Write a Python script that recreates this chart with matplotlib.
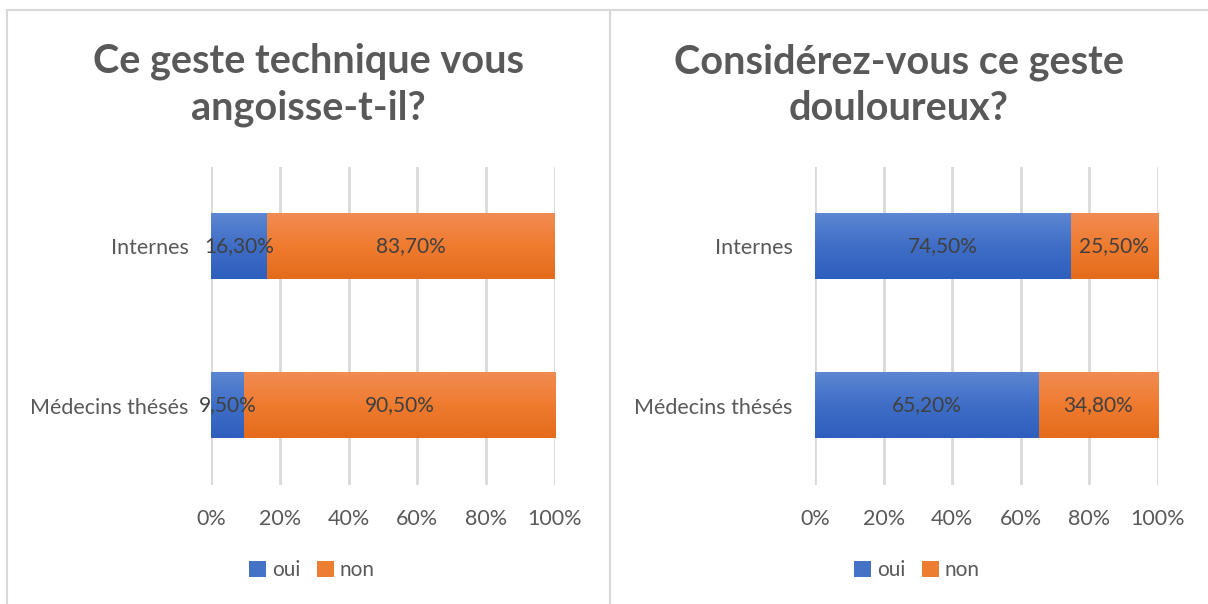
import numpy as np
import matplotlib.pyplot as plt
from matplotlib.colors import LinearSegmentedColormap
from matplotlib.patches import Rectangle

plt.rcParams['font.family'] = ['Lato', 'DejaVu Sans']

# data
groups = ["Internes", "Médecins thésés"]
angoisse_oui = [16.3, 9.5]
angoisse_non = [83.7, 90.5]
douleur_oui = [74.5, 65.2]
douleur_non = [25.5, 34.8]
titles = ["Ce geste technique vous\nangoisse-t-il?",
          "Considérez-vous ce geste\ndouloureux?"]
series_names = ["oui", "non"]
xticks = [0, 20, 40, 60, 80, 100]

BLUE = "#4472C4"
ORANGE = "#ED7D31"
GRID = "#D9D9D9"
TXT = "#595959"
BAR_H = 0.41

# top-to-bottom gradients like the office bars
blue_grad = LinearSegmentedColormap.from_list("b", ["#5C86D2", "#3F6EC6", "#2E5FBE"])
orange_grad = LinearSegmentedColormap.from_list("o", ["#F18B52", "#EF7B2F", "#E56B1B"])
ramp = np.linspace(0, 1, 64).reshape(-1, 1)

W, H = 1208, 604
fig = plt.figure(figsize=(W / 100, H / 100), dpi=100)


def fx(px):
    return px / W


def fy(py):
    return 1 - py / H


# panel borders
for x0, x1 in [(7, 610), (610, 1215)]:
    fig.patches.append(Rectangle((fx(x0), fy(620)), fx(x1 - x0), (620 - 10) / H,
                                 transform=fig.transFigure, fill=False,
                                 edgecolor=GRID, linewidth=1.5))


def fmt(v):
    return f"{v:.2f}".replace(".", ",") + "%"


def panel(ax_left, ax_right, title_x, legend_x, title, oui, non):
    ax = fig.add_axes([fx(ax_left), fy(485), fx(ax_right - ax_left), (485 - 167) / H])
    y = list(range(len(groups)))
    b1 = ax.barh(y, oui, height=BAR_H, color=BLUE, label=series_names[0])
    b2 = ax.barh(y, non, left=oui, height=BAR_H, color=ORANGE, label=series_names[1])
    for bars, cmap in [(b1, blue_grad), (b2, orange_grad)]:
        for r in bars:
            x0, y0 = r.get_x(), r.get_y()
            ax.imshow(ramp, cmap=cmap, aspect="auto", interpolation="bilinear",
                      extent=[x0, x0 + r.get_width(), y0 + r.get_height(), y0],
                      zorder=2.5)
    for vals, lefts in [(oui, [0] * len(oui)), (non, oui)]:
        for yi, v, l in zip(y, vals, lefts):
            ax.text(l + v / 2, yi, fmt(v), ha="center", va="center",
                    fontsize=15, color="#404040", zorder=4)
    ax.set_xlim(0, 100)
    ax.set_ylim(1.5, -0.5)
    ax.set_xticks(xticks)
    ax.set_xticklabels([f"{t}%" for t in xticks])
    ax.set_yticks(y)
    ax.set_yticklabels(groups)
    ax.tick_params(length=0, labelsize=15.5, labelcolor=TXT)
    ax.tick_params(axis="y", pad=16)
    ax.tick_params(axis="x", pad=17)
    ax.grid(axis="x", color=GRID, linewidth=2)
    ax.set_axisbelow(True)
    for s in ax.spines.values():
        s.set_visible(False)
    fig.text(fx(title_x), fy(85), title, ha="center", va="center",
             fontsize=28.5, fontweight="bold", color=TXT, linespacing=1.3)
    fig.legend(handles=[b1, b2], loc="center", bbox_to_anchor=(fx(legend_x), fy(570)),
               ncol=2, frameon=False, fontsize=15, labelcolor=TXT,
               handlelength=0.8, handleheight=0.8, handletextpad=0.3,
               columnspacing=0.8)


panel(211, 555, 308, 312, titles[0], angoisse_oui, angoisse_non)
panel(815, 1158, 899, 917, titles[1], douleur_oui, douleur_non)

fig.savefig("out.png", dpi=100, facecolor="white")
